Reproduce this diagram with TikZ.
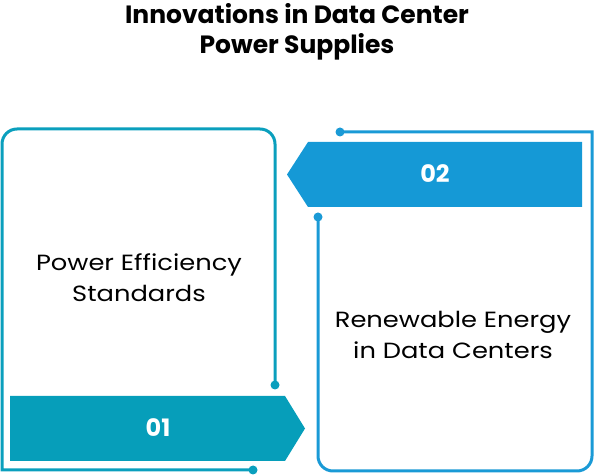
\documentclass[tikz,border=0pt]{standalone}
\usepackage{fontspec}
\setmainfont{Poppins}
\newfontfamily\wideface[FakeStretch=1.17]{Poppins}
\definecolor{tealc}{HTML}{0A9FBD}
\definecolor{tealf}{HTML}{069EBA}
\definecolor{bluec}{HTML}{1A9AD6}
\definecolor{bluef}{HTML}{1599D6}
\begin{document}
\begin{tikzpicture}[x=1pt,y=1pt,
  outline/.style={line width=3pt},
  dotmark/.style={circle,inner sep=0pt,minimum size=9pt},
  boxtext/.style={align=center,font=\wideface\fontsize{22}{31}\selectfont,text=black},
  numtxt/.style={font=\fontsize{24}{26}\selectfont\bfseries,text=white},
  titletxt/.style={align=center,font=\fontsize{25}{30}\selectfont\bfseries,text=black}]
\useasboundingbox (0,0) rectangle (594,476);
% title
\node[titletxt] (title) at (297,444) {Innovations in Data Center\\Power Supplies};
% left box outline
\node[dotmark,fill=tealc] (dA) at (275,91) {};
\node[dotmark,fill=tealc] (dB) at (253,6) {};
\draw[outline,tealc] (dA.center) -- (275,332) arc[start angle=0,end angle=90,radius=15]
  -- (17,347) arc[start angle=90,end angle=180,radius=15] -- (2,6) -- (dB.center);
% right box outline
\node[dotmark,fill=bluec] (dC) at (340,344) {};
\node[dotmark,fill=bluec] (dD) at (318,259) {};
\draw[outline,bluec] (dC.center) -- (592,344) -- (592,20) arc[start angle=0,end angle=-90,radius=15]
  -- (333,5) arc[start angle=270,end angle=180,radius=15] -- (dD.center);
% banners
\fill[tealf] (10,80) -- (285,80) -- (305,47.5) -- (285,15) -- (10,15) -- cycle;
\fill[bluef] (582,334) -- (308,334) -- (287,301.5) -- (308,269) -- (582,269) -- cycle;
\node[numtxt] (n1) at (158,48) {01};
\node[numtxt] (n2) at (435,302) {02};
% labels
\node[boxtext] (l1) at (139,198) {Power Efficiency\\Standards};
\node[boxtext] (l2) at (453,141) {Renewable Energy\\in Data Centers};
\end{tikzpicture}
\end{document}
